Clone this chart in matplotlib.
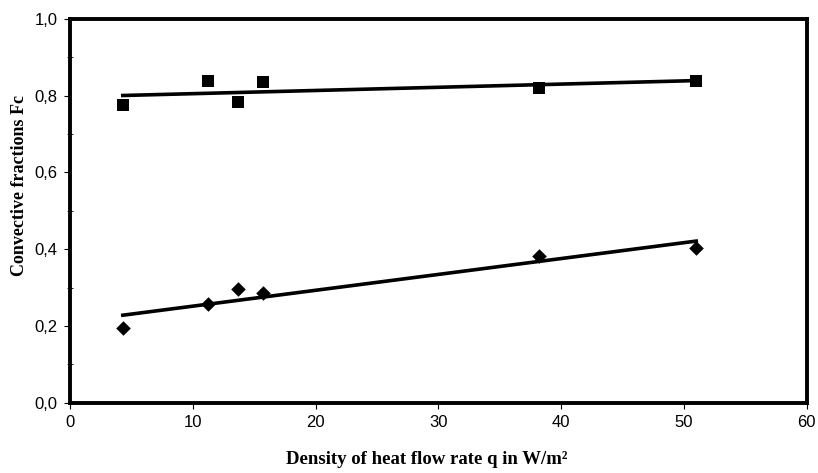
import numpy as np
import matplotlib
matplotlib.use("Agg")
import matplotlib.pyplot as plt
from matplotlib.ticker import MultipleLocator, FuncFormatter

# Data
q = [4.3, 11.2, 13.7, 15.7, 38.2, 51.0]
fc_squares = [0.775, 0.839, 0.784, 0.836, 0.821, 0.839]
fc_diamonds = [0.194, 0.256, 0.296, 0.285, 0.382, 0.403]

x_ticks = [0, 10, 20, 30, 40, 50, 60]
y_ticks = [0.0, 0.2, 0.4, 0.6, 0.8, 1.0]

fig = plt.figure(figsize=(8.18, 4.73), dpi=100)
ax = fig.add_axes([70/818, 1 - 402.7/473, (806.7-70)/818, (402.7-19)/473])

ax.scatter(q, fc_squares, marker='s', s=75, color='black', zorder=3, linewidths=0)
ax.scatter(q, fc_diamonds, marker='D', s=55, color='black', zorder=3, linewidths=0)

# linear trend lines
xs = np.array([min(q), max(q)])
for ys in (fc_squares, fc_diamonds):
    p = np.polyfit(q, ys, 1)
    ax.plot(xs, np.polyval(p, xs), color='black', lw=2.6, zorder=2)

ax.set_xlim(0, 60)
ax.set_ylim(0, 1.0)
ax.set_xticks(x_ticks)
ax.set_yticks(y_ticks)
ax.yaxis.set_minor_locator(MultipleLocator(0.1))
ax.yaxis.set_major_formatter(FuncFormatter(lambda v, p: f"{v:.1f}".replace('.', ',')))
ax.xaxis.set_major_formatter(FuncFormatter(lambda v, p: f"{int(v)}"))

for s in ax.spines.values():
    s.set_linewidth(2.8)
ax.tick_params(axis='both', which='major', direction='out', length=4, width=0.8,
               labelsize=12, pad=5)
ax.tick_params(axis='y', which='minor', direction='inout', length=4, width=0.6)
for lab in ax.get_xticklabels() + ax.get_yticklabels():
    lab.set_fontfamily('Liberation Sans')

ax.set_xlabel('Density of heat flow rate q in W/m²', fontfamily='Liberation Serif',
              fontweight='bold', fontsize=13.5)
ax.set_ylabel('Convective fractions Fc', fontfamily='Liberation Serif',
              fontweight='bold', fontsize=13)
ax.xaxis.set_label_coords(0.4846, -0.127)
ax.yaxis.set_label_coords(-0.057, 0.566)

fig.savefig('out.png', dpi=100)
